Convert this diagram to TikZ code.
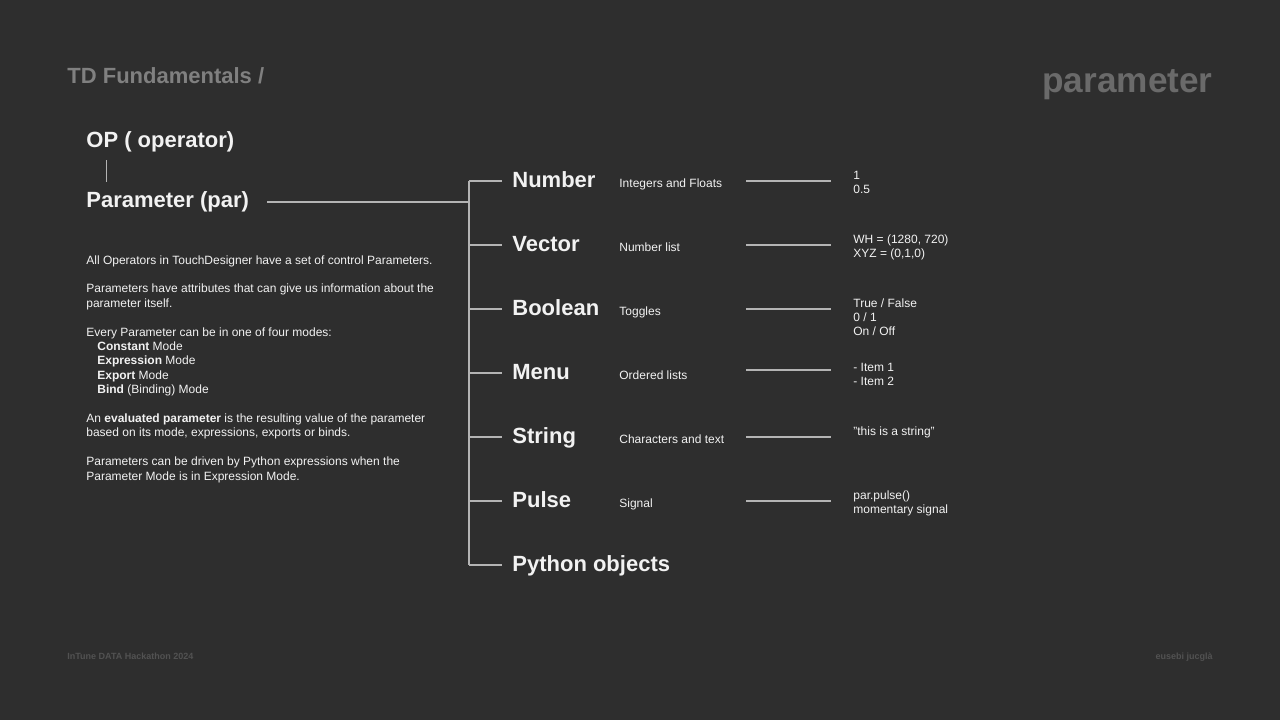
\documentclass[tikz,border=0pt]{standalone}
\usepackage{fontspec}
\setmainfont{Liberation Sans}
\usetikzlibrary{calc,positioning}
\definecolor{bgc}{HTML}{2E2E2E}
\definecolor{titlec}{HTML}{808080}
\definecolor{bigc}{HTML}{6A6A6A}
\definecolor{footc}{HTML}{525252}
\definecolor{linec}{HTML}{B4B4B4}
\definecolor{txtc}{HTML}{F2F2F2}
\newcommand{\bd}[1]{\textbf{#1}}
\newcommand{\lines}[1]{\begin{tabular}[t]{@{}l@{}}#1\end{tabular}}

\begin{document}
\begin{tikzpicture}[x=0.5pt,y=-0.5pt,
    every node/.style={inner sep=0pt,text=txtc},
    head/.style={font=\bfseries\fontsize{11}{13}\selectfont,anchor=base west},
    small/.style={font=\fontsize{6}{7.2}\selectfont,anchor=base west},
    foot/.style={font=\bfseries\fontsize{4.5}{5}\selectfont,text=footc},
    wire/.style={draw=linec,line width=0.6pt}]

  \fill[bgc] (0,0) rectangle (1280,720);

  \node[anchor=base west,text=titlec,font=\bfseries\fontsize{11}{13}\selectfont] (title) at (67,83) {TD Fundamentals /};
  \node[anchor=base east,text=bigc,font=\bfseries\fontsize{17.6}{20}\selectfont] (topic) at (1213,92) {parameter};

  \node[head] (op) at (86,147) {OP ( operator)};
  \node[head] (par) at (86,207) {Parameter (par)};
  \coordinate (optail) at (106.5,160);
  \coordinate (parhead) at (106.5,182);
  \draw[wire] (optail) -- (parhead);

  % left column text
  \node[small] (about) at (86,264) {\lines{%
    All Operators in TouchDesigner have a set of control Parameters.\\
    \\
    Parameters have attributes that can give us information about the\\
    parameter itself.\\
    \\
    Every Parameter can be in one of four modes:\\
    \hspace{5.5pt}\bd{Constant} Mode\\
    \hspace{5.5pt}\bd{Expression} Mode\\
    \hspace{5.5pt}\bd{Export} Mode\\
    \hspace{5.5pt}\bd{Bind} (Binding) Mode\\
    \\
    An \bd{evaluated parameter} is the resulting value of the parameter\\
    based on its mode, expressions, exports or binds.\\
    \\
    Parameters can be driven by Python expressions when the\\
    Parameter Mode is in Expression Mode.}};

  % tree
  \coordinate (ptail) at (267,202);
  \coordinate (bustop) at (469,181);
  \coordinate (busbot) at (469,565);
  \draw[wire] (ptail) -- (ptail -| bustop);
  \draw[wire] (bustop) -- (busbot);

  \foreach \i/\name in {0/Number,1/Vector,2/Boolean,3/Menu,4/String,5/Pulse,6/Python objects} {
    \pgfmathtruncatemacro\y{187+64*\i}
    \node[head] (cat\i) at (512,\y) {\name};
    \coordinate (bus\i) at (469,\y-6);
    \draw[wire] (bus\i) -- ([shift={(-5pt,3pt)}]cat\i.base west);
  }

  \foreach \i/\desc/\ln in {0/Integers and Floats/181,1/Number list/245,2/Toggles/309,
      3/Ordered lists/370,4/Characters and text/437,5/Signal/501} {
    \pgfmathtruncatemacro\y{187+64*\i}
    \node[small] (desc\i) at (619,\y) {\desc};
    \coordinate (dl\i) at (746,\ln);
    \coordinate (dr\i) at (831,\ln);
    \draw[wire] (dl\i) -- (dr\i);
  }

  \foreach \i/\val in {0/{1\\0.5},1/{WH = (1280, 720)\\XYZ = (0,1,0)},
      2/{True / False\\0 / 1\\On / Off},3/{- Item 1\\- Item 2},
      4/{"this is a string"},5/{par.pulse()\\momentary signal}} {
    \pgfmathtruncatemacro\y{179+64*\i}
    \node[small] (val\i) at (853,\y) {\lines{\val}};
  }

  \node[foot,anchor=base west] (event) at (67,659) {InTune DATA Hackathon 2024};
  \node[foot,anchor=base east] (author) at (1213,659) {eusebi jucglà};
\end{tikzpicture}
\end{document}
